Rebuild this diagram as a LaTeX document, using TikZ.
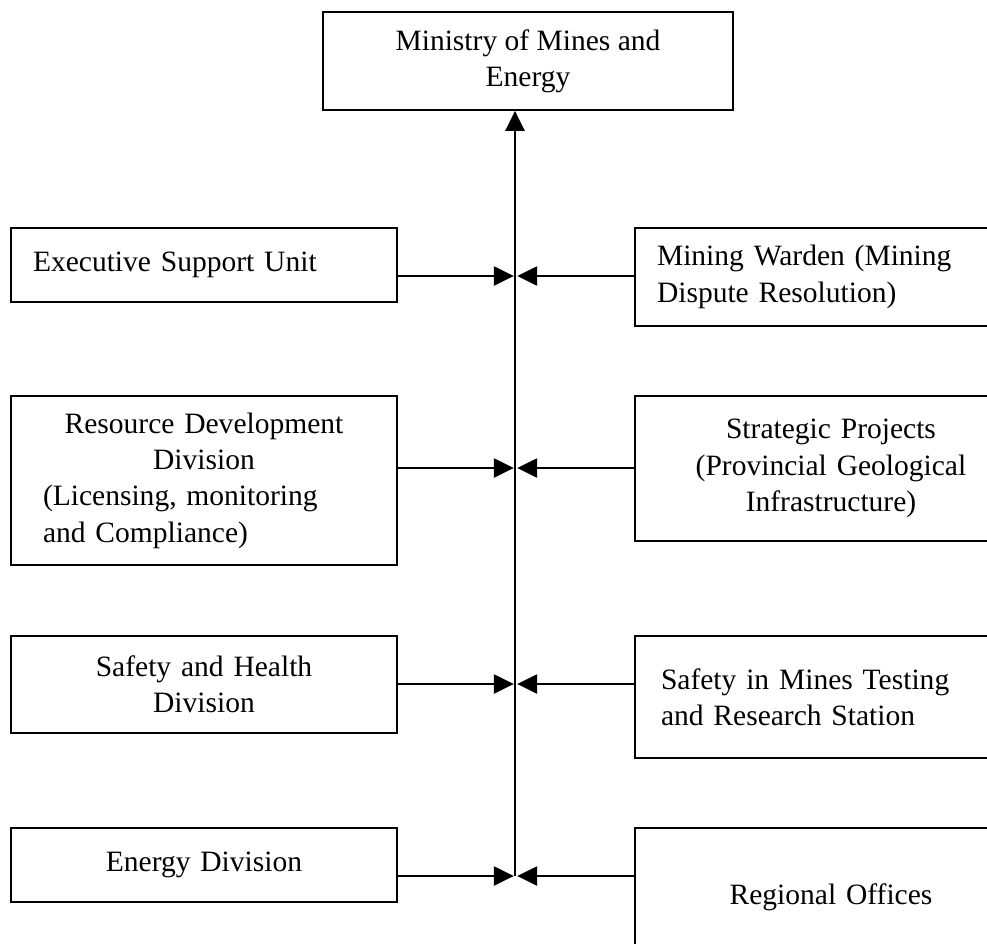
\documentclass[tikz,border=0pt]{standalone}
\usepackage{fontspec}
\setmainfont{Liberation Serif}
\usetikzlibrary{arrows.meta}
\tikzset{
  every node/.append style={font=\fontsize{21}{25.8}\selectfont},
  unit/.style={draw, line width=1.3pt, rectangle, inner xsep=0.55cm, inner ysep=0pt},
  lunit/.style={unit, text width=8.55cm},
  runit/.style={unit, text width=8.7cm},
  arr/.style={-{Triangle[length=0.5cm,width=0.48cm]}, line width=1.3pt},
}
\begin{document}
\begin{tikzpicture}
  \useasboundingbox (0,0) rectangle (24.675,-23.575);
  \clip (0,0) rectangle (24.675,-23.575);
  % --- top ---
  \node[unit, minimum width=10.25cm, minimum height=2.45cm, align=center] (mme) at (13.2,-1.525)
    {Ministry of Mines and\\Energy};
  % --- left column ---
  \node[lunit, minimum height=1.85cm, align=left] (esu) at (5.1,-6.625){Executive Support Unit};
  \node[lunit, minimum height=4.225cm, inner xsep=0.8cm, text width=8.05cm] (rdd) at (5.1,-12.0125)
    {\centering Resource Development\\Division\par
     \raggedright (Licensing, monitoring\\and Compliance)};
  \node[lunit, minimum height=2.425cm, align=center] (shd) at (5.1,-17.1125){Safety and Health\\Division};
  \node[lunit, minimum height=1.85cm, align=center] (end) at (5.1,-21.625){Energy Division};
  % --- right column ---
  \node[runit, minimum height=2.45cm, align=left] (mwd) at (20.775,-6.925)
    {Mining Warden (Mining\\Dispute Resolution)};
  \node[runit, minimum height=3.625cm, align=center] (spj) at (20.775,-11.7125)
    {Strategic Projects\\(Provincial Geological\\Infrastructure)};
  \node[runit, minimum height=3.05cm, align=left, inner xsep=0.65cm, text width=8.5cm] (smt) at (20.775,-17.425)
    {Safety in Mines Testing\\and Research Station\\[0.5cm]};
  \node[runit, minimum height=3.45cm, align=center] (rgo) at (20.775,-22.425){Regional Offices};
  % --- junctions on the spine ---
  \coordinate (sp) at (12.875,-21.9);
  \foreach \n/\y in {1/-6.9,2/-11.7,3/-17.1,4/-21.9}{
    \coordinate (jl\n) at (12.845,\y);
    \coordinate (jr\n) at (12.93,\y);}
  \draw[arr] (sp) -- (sp |- mme.south);
  \draw[arr] (esu.east |- jl1) -- (jl1);
  \draw[arr] (rdd.east |- jl2) -- (jl2);
  \draw[arr] (shd.east |- jl3) -- (jl3);
  \draw[arr] (end.east |- jl4) -- (jl4);
  \draw[arr] (mwd.west |- jr1) -- (jr1);
  \draw[arr] (spj.west |- jr2) -- (jr2);
  \draw[arr] (smt.west |- jr3) -- (jr3);
  \draw[arr] (rgo.west |- jr4) -- (jr4);
\end{tikzpicture}
\end{document}
